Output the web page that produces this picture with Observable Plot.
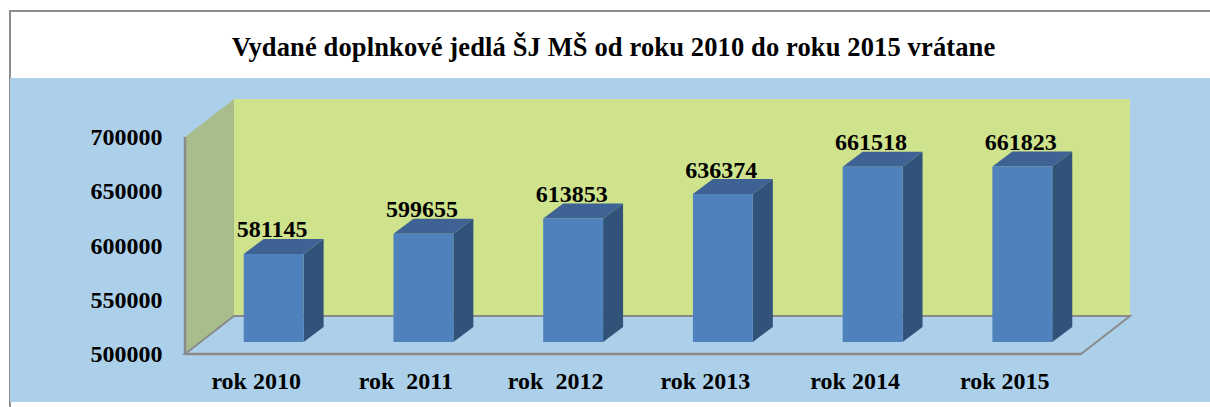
<!DOCTYPE html>
<html><head><meta charset="utf-8">
<script src="https://cdn.jsdelivr.net/npm/d3@7"></script>
<script src="https://cdn.jsdelivr.net/npm/@observablehq/plot@0.6"></script>
<style>
html,body{margin:0;padding:0;background:#fff;overflow:hidden}
#frame{position:absolute;left:9px;top:10px;width:1201px;height:397px;box-sizing:border-box;border-left:2px solid #8c8c8c;border-top:2px solid #8c8c8c}
#title{position:absolute;left:0;top:0;width:1227px;height:78px;text-align:center;font:bold 26.5px/95px "Liberation Serif",serif;letter-spacing:.13px;color:#000}
#chart{position:absolute;left:10px;top:78px;width:1200px;height:324px}
#chart svg{display:block;background:#acd0ea}
#chart text{white-space:pre}
</style></head><body>
<div id="frame"></div>
<div id="title">Vydané doplnkové jedlá ŠJ MŠ od roku 2010 do roku 2015 vrátane</div>
<div id="chart"></div>
<script>
const categories = ["rok 2010","rok  2011","rok  2012","rok 2013","rok 2014","rok 2015"];
const values = [581145,599655,613853,636374,661518,661823];
const yTicks = [500000,550000,600000,650000,700000];

const rows = categories.map((c,i)=>({c,v:values[i]}));
const font = '"Liberation Serif",serif';
const depth = {x:49,y:-38}, barOff = {x:15,y:-12}, barDepth = {x:20,y:-15};
const grey = "#8a8a8a";
const poly = (pts,fill,stroke,sw) => {
  const p = document.createElementNS("http://www.w3.org/2000/svg","polygon");
  p.setAttribute("points",pts.map(q=>q.join(",")).join(" "));
  p.setAttribute("fill",fill);
  if(stroke){p.setAttribute("stroke",stroke);p.setAttribute("stroke-width",sw);}
  return p;
};
const g = () => document.createElementNS("http://www.w3.org/2000/svg","g");

function walls(index,{x,y}){
  const el = g();
  const [x0,x1] = [x.range()[0],x.range()[1]];
  const yb = y(yTicks[0]), yt = y(yTicks[4]);
  el.append(poly([[x0+depth.x,yt+depth.y],[x1+depth.x,yt+depth.y],[x1+depth.x,yb+depth.y],[x0+depth.x,yb+depth.y]],"#cfe38c"));
  el.append(poly([[x0,yt],[x0+depth.x,yt+depth.y],[x0+depth.x,yb+depth.y],[x0,yb]],"#a9bd8c"));
  el.append(poly([[x0,yb],[x0+depth.x,yb+depth.y],[x1+depth.x,yb+depth.y],[x1,yb]],"none",grey,2));
  el.append(poly([[x0,yt],[x0,yb]],"none",grey,2.5));
  el.append(poly([[x0,yb],[x1,yb]],"none",grey,2.5));
  return el;
}
function bars3d(index,{x,y}){
  const el = g();
  const w = x.bandwidth();
  for(const r of rows){
    const l = x(r.c)+barOff.x, t = y(r.v)+barOff.y, b = y(yTicks[0])+barOff.y, R = l+w;
    el.append(poly([[R,t],[R+barDepth.x,t+barDepth.y],[R+barDepth.x,b+barDepth.y],[R,b]],"#325379"));
    el.append(poly([[l,t],[l+barDepth.x,t+barDepth.y],[R+barDepth.x,t+barDepth.y],[R,t]],"#3d6293"));
  }
  return el;
}

const chart = Plot.plot({
  width:1200,height:324,marginLeft:175,marginBottom:48,marginTop:0,marginRight:0,
  style:{background:"#acd0ea",fontFamily:font},
  x:{type:"band",domain:categories,range:[175,1071],paddingInner:0.6,paddingOuter:0.292,round:false,label:null},
  y:{type:"linear",domain:[500000,700000],range:[276,59],label:null},
  marks:[
    walls,
    bars3d,
    Plot.barY(rows,{x:"c",y1:()=>yTicks[0],y2:"v",fill:"#4f81bd",dx:barOff.x,dy:barOff.y}),
    Plot.text(rows,{x:"c",y:"v",text:d=>String(d.v),dx:13,dy:-29,lineAnchor:"bottom",fontSize:24,fontWeight:"bold",fontFamily:font,fill:"#000"}),
    Plot.axisY({ticks:yTicks,tickSize:0,tickPadding:23,fontSize:24,fontWeight:"bold",fontFamily:font,tickFormat:d=>String(d),label:null,color:"#000"}),
    Plot.axisX({tickSize:0,tickPadding:17,fontSize:24,fontWeight:"bold",fontFamily:font,label:null,color:"#000",dx:-3})
  ]
});
document.getElementById("chart").append(chart);
</script>
</body></html>
